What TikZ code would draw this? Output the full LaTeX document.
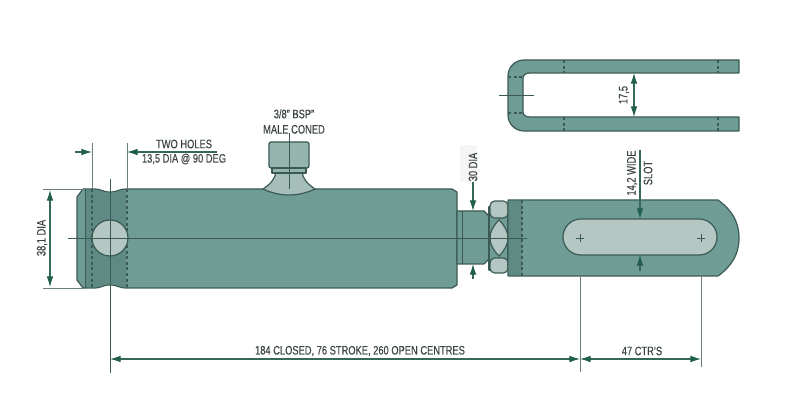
\documentclass[tikz,border=0pt]{standalone}
\usepackage{fontspec}
\setmainfont[FakeStretch=0.76,FakeBold=0.25]{Liberation Sans}
\usetikzlibrary{
  arrows.meta, % for the dimension arrow tips
}
\definecolor{bodyteal}{HTML}{6F9C95}
\definecolor{bodydark}{HTML}{5F8A84}
\definecolor{edgedark}{HTML}{3B5A56}
\definecolor{holegrey}{HTML}{B4C7C3}
\definecolor{dimgreen}{HTML}{1F5F4B}
\definecolor{linegrey}{HTML}{6C7E7B}
\definecolor{textgrey}{HTML}{3A4442}
\tikzset{
  part/.style={ % style for the teal steel parts
    draw=edgedark,fill=bodyteal,line width=0.9pt,line join=round,
  },
  hole/.style={ % style for the light openings
    draw=edgedark,fill=holegrey,line width=0.9pt,
  },
  hidden/.style={ % style for the dotted hidden edges
    draw=edgedark,line width=0.8pt,dash pattern=on 2.2pt off 2pt,
  },
  centre/.style={ % style for the centre lines
    draw=edgedark,line width=0.6pt,
  },
  ext/.style={ % style for the extension lines
    draw=linegrey,line width=0.7pt,
  },
  dim/.style={ % style for the dimension arrows
    draw=dimgreen!70!linegrey,line width=0.8pt,
    {Latex[length=8pt,width=5pt,color=dimgreen]}-{Latex[length=8pt,width=5pt,color=dimgreen]},
  },
  lead/.style={ % style for the one sided arrows
    draw=dimgreen!70!linegrey,line width=0.8pt,-{Latex[length=8pt,width=5pt,color=dimgreen]},
  },
  lbl/.style={ % style for the labels
    text=textgrey,font=\fontsize{9.2}{10.5}\selectfont,inner sep=0pt,align=center,
  },
}
\begin{document}
\begin{tikzpicture}[x=0.75pt,y=-0.75pt]
	\useasboundingbox (0,0) rectangle (800,420);

	% cylinder
	\draw[part] (83,189) -- (94,189) .. controls (102,189) and (102,192) .. (110,192)
		.. controls (118,192) and (118,189) .. (127,189) -- (263,189) -- (452,189)
		-- (457,192) -- (457,285) -- (452,288) -- (127,288)
		.. controls (118,288) and (118,285) .. (110,285)
		.. controls (102,285) and (102,288) .. (94,288) -- (83,288)
		-- (77,280) -- (77,197) -- cycle;
	\fill[bodydark] (86,190) -- (94,190) .. controls (102,190) and (102,193) .. (110,193)
		.. controls (118,193) and (118,190) .. (126,190) -- (126,287)
		.. controls (118,287) and (118,284) .. (110,284)
		.. controls (102,284) and (102,287) .. (94,287) -- (86,287) -- cycle;
	\draw[centre] (85,189) -- (85,288);
	\draw[hidden] (92,189) -- (92,288);
	\draw[hidden] (127,189) -- (127,288);
	\node (holeA) [hole,circle,minimum size=36*0.75pt,inner sep=0pt] at (110,238) {};

	% port on top of the cylinder
	\draw[hole,fill=holegrey!80!bodyteal] (263,189) .. controls (272,183) and (275,178) .. (276,172)
		-- (302,172) .. controls (303,178) and (306,183) .. (315,189)
		.. controls (298,197) and (280,197) .. (263,189) -- cycle;
	\draw[part,fill=holegrey!55!bodyteal,rounded corners=1.5pt] (269,142) rectangle (309,168);
	\draw[part,fill=holegrey!55!bodyteal] (272,168) rectangle (306,173);

	% neck and nut
	\draw[part] (457,211) -- (484,211) -- (489,216) -- (489,259) -- (484,264) -- (457,264) -- cycle;
	\draw[centre] (462,211) -- (462,264);
	\draw[part] (489,207) rectangle (508,270);
	\draw[hole,rounded corners=3.5pt] (490,201) rectangle (508,218);
	\draw[hole,rounded corners=3.5pt] (490,258) rectangle (508,273);
	\draw[hole] (499,220) .. controls (505,226) and (508,232) .. (508,238)
		.. controls (508,244) and (505,250) .. (499,256)
		.. controls (493,250) and (490,244) .. (490,238)
		.. controls (490,232) and (493,226) .. (499,220) -- cycle;

	% clevis side view
	\draw[part] (508,200) -- (718,200) .. controls (732,210) and (739,222) .. (739,238)
		.. controls (739,254) and (732,266) .. (718,276) -- (508,276) -- cycle;
	\fill[bodydark] (509,201) rectangle (522,275);
	\draw[hidden] (522,200) -- (522,276);
	\draw[hole] (581,219) -- (699,219) arc[start angle=-90,end angle=90,radius=18]
		-- (581,255) arc[start angle=90,end angle=270,radius=18] -- cycle;
	\coordinate (slotL) at (580,238);
	\coordinate (slotR) at (701,238);
	\draw[centre] ([xshift=-3pt]slotL) -- ([xshift=3pt]slotL) ([yshift=-3pt]slotL) -- ([yshift=3pt]slotL);
	\draw[centre] ([xshift=-3pt]slotR) -- ([xshift=3pt]slotR) ([yshift=-3pt]slotR) -- ([yshift=3pt]slotR);

	% clevis top view
	\draw[part] (739,60) -- (524,60) arc[start angle=-90,end angle=-180,radius=16] -- (508,115)
		arc[start angle=180,end angle=90,radius=16] -- (739,131) -- (739,117) -- (530,117)
		.. controls (526,117) and (523,115) .. (523,112) -- (523,78)
		.. controls (523,75) and (526,73) .. (530,73) -- (739,73) -- cycle;
	\foreach \dashx in {564,718} {
		\draw[hidden] (\dashx,60) -- (\dashx,73);
		\draw[hidden] (\dashx,117) -- (\dashx,131);
	}
	\draw[hidden] (508,77) -- (523,77);
	\draw[hidden] (508,113) -- (523,113);

	% named ends of the dimensions
	\coordinate (axisL) at (68,238);
	\coordinate (axisR) at (527,238);
	\coordinate (topL) at (499,95);
	\coordinate (topR) at (534,95);
	\coordinate (holeT) at (110,179);
	\coordinate (holeB) at (110,373);
	\coordinate (portT) at (289,133);
	\coordinate (portB) at (289,189);
	\draw[centre] (axisL) -- (axisR);
	\draw[centre] (topL) -- (topR);
	\draw[centre] (holeT) -- (holeB);
	\draw[centre] (portT) -- (portB);

	% 38,1 dia
	\coordinate (diaT) at (43,189);
	\coordinate (diaB) at (43,288);
	\draw[ext] (diaT) -- (85,189);
	\draw[ext] (diaB) -- (85,288);
	\draw[dim] (50,190) -- (50,287);
	\node (diaLabel) [lbl,rotate=90] at (42,238) {38,1 DIA};

	% two holes
	\coordinate (holesAT) at (92,143);
	\coordinate (holesBT) at (127,143);
	\coordinate (holesAB) at (92,189);
	\coordinate (holesBB) at (127,189);
	\coordinate (holesArr) at (75,152);
	\coordinate (holesEnd) at (217,152);
	\draw[ext] (holesAT) -- (holesAB);
	\draw[ext] (holesBT) -- (holesBB);
	\draw[lead] (holesArr) -- (92,152);
	\draw[lead] (holesEnd) -- (127,152);
	\node (holesA) [lbl] at (184,144) {TWO HOLES};
	\node (holesB) [lbl] at (184,159) {13,5 DIA @ 90 DEG};

	% port label
	\node (portLabel) [lbl] at (294,121.5) {3/8'' BSP''\\[1pt]MALE CONED};

	% 30 dia
	\node (neckBg) [fill=black!4,minimum width=17*0.75pt,minimum height=37*0.75pt,inner sep=0pt] at (468.5,163.5) {};
	\node (neckLabel) [lbl,rotate=90] at (473,167) {30 DIA};
	\coordinate (neckT) at (473,182);
	\coordinate (neckTt) at (473,211);
	\coordinate (neckB) at (473,279);
	\coordinate (neckBt) at (473,264);
	\draw[lead] (neckT) -- (neckTt);
	\draw[lead] (neckB) -- (neckBt);

	% 14,2 wide slot
	\coordinate (slotT) at (640,150);
	\coordinate (slotTt) at (640,219);
	\coordinate (slotB) at (640,271);
	\coordinate (slotBt) at (640,255);
	\draw[lead] (slotT) -- (slotTt);
	\draw[lead] (slotB) -- (slotBt);
	\node (slotA) [lbl,rotate=90] at (632,173) {14,2 WIDE};
	\node (slotC) [lbl,rotate=90] at (648,173) {SLOT};

	% 17,5
	\coordinate (gapT) at (634,73);
	\coordinate (gapB) at (634,117);
	\draw[dim] (gapT) -- (gapB);
	\node (gapLabel) [lbl,rotate=90] at (624,95) {17,5};

	% bottom dimensions
	\coordinate (pinA) at (580,276);
	\coordinate (pinB) at (701,276);
	\coordinate (extA) at (580,372);
	\coordinate (extB) at (701,367);
	\coordinate (dimL) at (110,359);
	\coordinate (dimM) at (580,359);
	\coordinate (dimR) at (701,359);
	\draw[ext] (pinA) -- (extA);
	\draw[ext] (pinB) -- (extB);
	\draw[dim] (dimL) -- (dimM);
	\draw[dim] (dimM) -- (dimR);
	\node (lenLabel) [lbl] at (360,351) {184 CLOSED, 76 STROKE, 260 OPEN CENTRES};
	\node (ctrLabel) [lbl] at (642,351) {47 CTR'S};
\end{tikzpicture}
\end{document}
